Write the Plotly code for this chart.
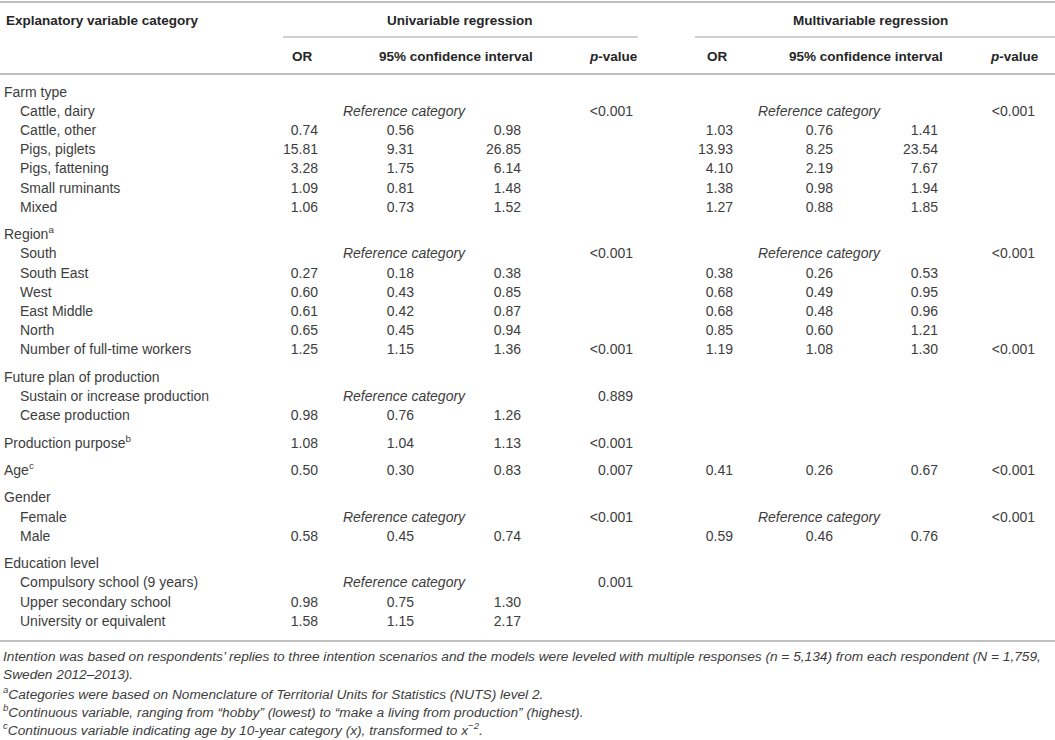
import plotly.graph_objects as go

# table content
labels = [
    "Farm type", "Cattle, dairy", "Cattle, other", "Pigs, piglets", "Pigs, fattening",
    "Small ruminants", "Mixed",
    "Region<sup>a</sup>", "South", "South East", "West", "East Middle", "North",
    "Number of full-time workers",
    "Future plan of production", "Sustain or increase production", "Cease production",
    "Production purpose<sup>b</sup>",
    "Age<sup>c</sup>",
    "Gender", "Female", "Male",
    "Education level", "Compulsory school (9 years)", "Upper secondary school",
    "University or equivalent",
]
indent = [0, 1, 1, 1, 1, 1, 1,
          0, 1, 1, 1, 1, 1, 1,
          0, 1, 1,
          0,
          0,
          0, 1, 1,
          0, 1, 1, 1]
gap_before = [7, 14, 17, 18, 19, 22]

uni_or = [None, None, 0.74, 15.81, 3.28, 1.09, 1.06,
          None, None, 0.27, 0.60, 0.61, 0.65, 1.25,
          None, None, 0.98, 1.08, 0.50, None, None, 0.58,
          None, None, 0.98, 1.58]
uni_lo = [None, None, 0.56, 9.31, 1.75, 0.81, 0.73,
          None, None, 0.18, 0.43, 0.42, 0.45, 1.15,
          None, None, 0.76, 1.04, 0.30, None, None, 0.45,
          None, None, 0.75, 1.15]
uni_hi = [None, None, 0.98, 26.85, 6.14, 1.48, 1.52,
          None, None, 0.38, 0.85, 0.87, 0.94, 1.36,
          None, None, 1.26, 1.13, 0.83, None, None, 0.74,
          None, None, 1.30, 2.17]
uni_p = ["", "<0.001", "", "", "", "", "",
         "", "<0.001", "", "", "", "", "<0.001",
         "", "0.889", "", "<0.001", "0.007", "", "<0.001", "",
         "", "0.001", "", ""]
uni_ref = [1, 8, 15, 20, 23]

multi_or = [None, None, 1.03, 13.93, 4.10, 1.38, 1.27,
            None, None, 0.38, 0.68, 0.68, 0.85, 1.19,
            None, None, None, None, 0.41, None, None, 0.59,
            None, None, None, None]
multi_lo = [None, None, 0.76, 8.25, 2.19, 0.98, 0.88,
            None, None, 0.26, 0.49, 0.48, 0.60, 1.08,
            None, None, None, None, 0.26, None, None, 0.46,
            None, None, None, None]
multi_hi = [None, None, 1.41, 23.54, 7.67, 1.94, 1.85,
            None, None, 0.53, 0.95, 0.96, 1.21, 1.30,
            None, None, None, None, 0.67, None, None, 0.76,
            None, None, None, None]
multi_p = ["", "<0.001", "", "", "", "", "",
           "", "<0.001", "", "", "", "", "<0.001",
           "", "", "", "", "<0.001", "", "<0.001", "",
           "", "", "", ""]
multi_ref = [1, 8, 20]

footnotes = [
    "Intention was based on respondents’ replies to three intention scenarios and the models were "
    "leveled with multiple responses (n = 5,134) from each respondent (N = 1,759,",
    "Sweden 2012–2013).",
    "<sup>a</sup>Categories were based on Nomenclature of Territorial Units for Statistics (NUTS) level 2.",
    "<sup>b</sup>Continuous variable, ranging from “hobby” (lowest) to “make a living from production” (highest).",
    "<sup>c</sup>Continuous variable indicating age by 10-year category (x), transformed to x<sup>−2</sup>.",
]

W, H = 1055, 740
FONT = "Liberation Sans"
TXT = "#3d3d3d"
HEAD = "#262626"
RULE = "#c0c0c0"
FS = 14

# row positions
y0, pitch, gap = 93, 19.2, 8.2
ys = []
n_gap = 0
for i in range(len(labels)):
    if i in gap_before:
        n_gap += 1
    ys.append(y0 + i * pitch + n_gap * gap)


def fmt(v):
    return "" if v is None else f"{v:.2f}"


fig = go.Figure()


def add_col(xpos, texts, pos, rows=None):
    rows = list(range(len(texts))) if rows is None else rows
    keep = [(r, t) for r, t in zip(rows, texts) if t]
    fig.add_trace(go.Scatter(
        x=[xpos] * len(keep), y=[ys[r] for r, _ in keep],
        text=[t for _, t in keep], mode="text", textposition=pos,
        textfont=dict(family=FONT, size=FS, color=TXT),
        hoverinfo="skip", showlegend=False, cliponaxis=False,
    ))


# label column
grp = [i for i, d in enumerate(indent) if d == 0]
sub = [i for i, d in enumerate(indent) if d == 1]
add_col(4, [labels[i] for i in grp], "middle right", grp)
add_col(20, [labels[i] for i in sub], "middle right", sub)

# univariable
add_col(318, [fmt(v) for v in uni_or], "middle left")
add_col(414, [fmt(v) for v in uni_lo], "middle left")
add_col(521, [fmt(v) for v in uni_hi], "middle left")
add_col(633, [p.replace("<", "&lt;") for p in uni_p], "middle left")
add_col(404, ["<i>Reference category</i>"] * len(uni_ref), "middle center", uni_ref)

# multivariable
add_col(733, [fmt(v) for v in multi_or], "middle left")
add_col(833, [fmt(v) for v in multi_lo], "middle left")
add_col(938, [fmt(v) for v in multi_hi], "middle left")
add_col(1035, [p.replace("<", "&lt;") for p in multi_p], "middle left")
add_col(819, ["<i>Reference category</i>"] * len(multi_ref), "middle center", multi_ref)

# headers
heads = [
    (4, 20, "Explanatory variable category", "left"),
    (460, 20, "Univariable regression", "center"),
    (870, 20, "Multivariable regression", "center"),
    (302, 56, "OR", "center"),
    (456, 56, "95% confidence interval", "center"),
    (613, 56, "<i>p</i>-value", "center"),
    (717, 56, "OR", "center"),
    (866, 56, "95% confidence interval", "center"),
    (1014, 56, "<i>p</i>-value", "center"),
]
for hx, hy, ht, ha in heads:
    fig.add_annotation(x=hx, y=hy, xref="x", yref="y", text=f"<b>{ht}</b>",
                       showarrow=False, xanchor=ha, yanchor="middle",
                       font=dict(family=FONT, size=13.5, color=HEAD))

# rules
for x_a, x_b, yy, lw in [(0, W, 2, 2), (283, 638, 37, 1.5), (695, W, 37, 1.5),
                         (0, W, 74, 2), (0, W, 641, 2)]:
    fig.add_shape(type="line", x0=x_a, x1=x_b, y0=yy, y1=yy, xref="x", yref="y",
                  line=dict(color=RULE, width=lw))

# footnotes
for k, t in enumerate(footnotes):
    fig.add_annotation(x=1, y=656 + k * 18.3, xref="x", yref="y", text=f"<i>{t}</i>",
                       showarrow=False, xanchor="left", yanchor="middle",
                       font=dict(family=FONT, size=13.7, color=TXT))

fig.update_xaxes(range=[0, W], visible=False, fixedrange=True)
fig.update_yaxes(range=[H, 0], visible=False, fixedrange=True)
fig.update_layout(width=W, height=H, margin=dict(l=0, r=0, t=0, b=0),
                  plot_bgcolor="white", paper_bgcolor="white")

# drop the default page margin so the table sits at the window's top-left
fig.write_html("out.html", config={"displayModeBar": False},
               post_script="document.body.style.margin = '0';")
